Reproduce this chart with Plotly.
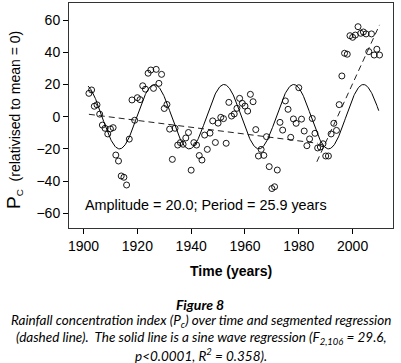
import numpy as np
import plotly.graph_objects as go

# ---- data ----
years = list(range(1902, 2011))
pc_values = [
    14.5, 16.6, 6.5, 7.4, 1.6, -5.2, -7.2, -10.7, -7.6, -6.8,
    -23.8, -27.5, -36.8, -37.6, -42.4, -13.9, 10.4, -2.2, 11.8, 10.6,
    19.2, 17.1, 27.0, 29.0, 17.6, 29.4, 20.7, 26.3, 5.1, 7.6,
    -7.7, -26.5, -7.2, -17.6, -16.1, -17.1, -13.2, -9.8, -33.2, -16.1,
    -17.6, -24.1, -26.9, -11.4, -20.3, -10.2, -2.6, -16.0, -4.0, -0.4,
    -1.2, -16.5, 8.9, 0.4, 1.7, 5.2, 11.4, 8.3, 6.6, 3.5,
    13.9, 9.3, -8.0, -24.4, -20.3, -24.0, -12.4, -31.0, -44.6, -43.5,
    -33.1, -3.5, -8.3, 9.8, 4.6, -12.8, -1.4, -4.1, 18.0, -1.5,
    -8.9, -18.0, -13.8, -1.1, -10.3, -19.4, -18.8, -16.8, -24.4, -24.4,
    -10.7, -4.1, -8.5, 7.5, 25.3, 39.4, 38.8, 50.3, 49.3, 50.7,
    55.9, 51.8, 52.6, 51.4, 40.4, 51.4, 38.3, 41.9, 38.3,
]

# sine wave regression parameters
sine_amplitude = 20.0
sine_period = 25.9
sine_peak_year = 1926.3
sine_span = [1901.7, 2009.7]

# segmented regression (two segments: start/end years and values)
seg1_years = [1902, 1987]
seg1_values = [1.5, -16.5]
seg2_years = [1986.7, 2010]
seg2_values = [-28.0, 57.0]

x_ticks = [1900, 1920, 1940, 1960, 1980, 2000]
y_ticks = [-60, -40, -20, 0, 20, 40, 60]

# ---- figure ----
t = np.linspace(sine_span[0], sine_span[1], 600)
sine_y = sine_amplitude * np.cos(2 * np.pi * (t - sine_peak_year) / sine_period)

fig = go.Figure()
fig.add_trace(go.Scatter(x=t, y=sine_y, mode="lines",
                         line=dict(color="black", width=1), hoverinfo="skip"))
fig.add_trace(go.Scatter(x=seg1_years, y=seg1_values, mode="lines",
                         line=dict(color="#222", width=1, dash="6px,4px")))
fig.add_trace(go.Scatter(x=seg2_years, y=seg2_values, mode="lines",
                         line=dict(color="#222", width=1, dash="6px,4px")))
fig.add_trace(go.Scatter(x=years, y=pc_values, mode="markers",
                         marker=dict(symbol="circle-open", size=6,
                                     color="black", line=dict(width=0.9))))

axis_family = "Liberation Sans, Arial, sans-serif"
axis_font = dict(family=axis_family, size=14, color="black")

fig.update_layout(
    width=401, height=363,
    margin=dict(l=69, r=8, t=3, b=135),
    paper_bgcolor="white", plot_bgcolor="white",
    showlegend=False,
    font=axis_font,
    xaxis=dict(range=[1894.6, 2015], tickvals=x_ticks, ticks="outside", ticklen=5,
               tickcolor="black", showline=True, linecolor="#333", linewidth=1,
               mirror=True, showgrid=False, zeroline=False, tickfont=axis_font),
    yaxis=dict(range=[-69.1, 70.6], tickvals=y_ticks, ticks="outside", ticklen=5,
               tickcolor="black", showline=True, linecolor="#333", linewidth=1,
               mirror=True, showgrid=False, zeroline=False, tickfont=axis_font),
)

cap_font = "Lato, Noto Sans, sans-serif"


def paper_ann(text, x, y, size, family, angle=0):
    return dict(text=text, x=x, y=y, xref="paper", yref="paper",
                xanchor="center", yanchor="middle", showarrow=False,
                textangle=angle, font=dict(size=size, family=family, color="black"))


annotations = [
    dict(text="Amplitude = 20.0; Period = 25.9 years", x=1945.5, y=-54.8,
         xref="x", yref="y", xanchor="center", yanchor="middle", showarrow=False,
         font=dict(size=14.4, family=axis_family, color="black")),
    paper_ann("<b>Time (years)</b>", 0.5, -0.191, 14, axis_family),
    paper_ann("<span style='font-size:19px'>P</span><sub>C</sub>  (relativised to mean = 0)",
              -0.17, 0.48, 14, axis_family, angle=-90),
    paper_ann("<b><i>Figure 8</i></b>", 0.403, -0.342, 14, cap_font),
    paper_ann("<i>Rainfall concentration index (P<sub>c</sub>) over time and segmented regression</i>",
              0.406, -0.413, 13.5, cap_font),
    paper_ann("<i>(dashed line).  The solid line is a sine wave regression (F<sub>2,106</sub> = 29.6,</i>",
              0.41, -0.489, 13.5, cap_font),
    paper_ann("<i>p<0.0001, R<sup>2</sup> = 0.358).</i>", 0.407, -0.564, 13.5, cap_font),
]
fig.update_layout(annotations=annotations)

fig.write_html("out.html", config={"displayModeBar": False},
               post_script="document.body.style.margin='0px';")
